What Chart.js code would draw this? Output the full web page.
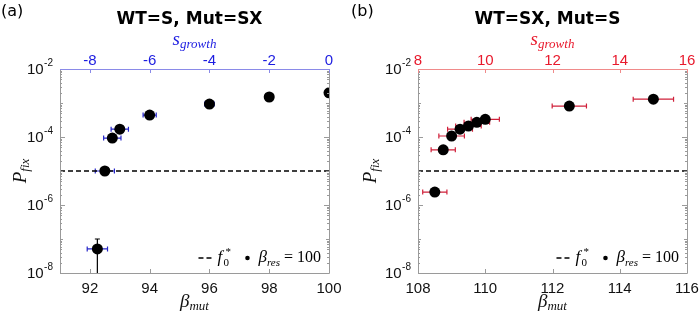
<!DOCTYPE html>
<html>
<head>
<meta charset="utf-8">
<script src="https://cdn.jsdelivr.net/npm/chart.js@4/dist/chart.umd.min.js"></script>
<style>
  body { margin: 0; background: #fff; }
  #wrap { display: flex; width: 700px; height: 317px; }
  canvas { display: block; }
</style>
</head>
<body>
<div id="wrap">
  <canvas id="chartA" width="350" height="317"></canvas>
  <canvas id="chartB" width="350" height="317"></canvas>
</div>
<script>
// panel (a): WT=S, Mut=SX
const betaMutA = [92.25, 92.5, 92.75, 93, 94, 96, 98, 100];
const pFixA = [5.1e-8, 1.0e-5, 9.3e-5, 1.7e-4, 4.4e-4, 9.3e-4, 1.5e-3, 2.0e-3];
const xErrA = [0.34, 0.32, 0.29, 0.29, 0.22, 0.16, 0, 0];
const yLowA = [1e-9, null, null, null, null, null, null, null];
const yHighA = [1.0e-7, null, null, null, null, null, null, null];
const betaTicksA = [92, 94, 96, 98, 100];
const sTicksA = [-8, -6, -4, -2, 0];

// panel (b): WT=SX, Mut=S
const betaMutB = [108.5, 108.75, 109, 109.25, 109.5, 109.75, 110, 112.5, 115];
const pFixB = [2.4e-6, 4.2e-5, 1.07e-4, 1.7e-4, 2.1e-4, 2.7e-4, 3.3e-4, 8.1e-4, 1.3e-3];
const xErrB = [0.36, 0.36, 0.38, 0.37, 0.38, 0.38, 0.42, 0.51, 0.6];
const betaTicksB = [108, 110, 112, 114, 116];
const sTicksB = [8, 10, 12, 14, 16];

const yTicks = [1e-8, 1e-6, 1e-4, 1e-2];
const fStar = 1e-5;
const betaRes = 100;

const SANS = '"Liberation Sans", Arial, sans-serif';
const SERIF = '"Liberation Serif", "DejaVu Serif", serif';

function drawParts(ctx, parts, x, y) {
  // parts: [text, font, dy]
  parts.forEach(p => {
    ctx.font = p[1];
    ctx.fillText(p[0], x, y + (p[2] || 0));
    x += ctx.measureText(p[0]).width;
  });
  return x;
}
function partsWidth(ctx, parts) {
  let w = 0;
  parts.forEach(p => { ctx.font = p[1]; w += ctx.measureText(p[0]).width; });
  return w;
}

function makePanel(id, p) {
  const deco = {
    id: 'deco' + id,
    beforeDatasetsDraw(chart) {
      const ctx = chart.ctx, xs = chart.scales.x, ys = chart.scales.y, a = chart.chartArea;
      ctx.save();
      ctx.beginPath();
      ctx.rect(a.left, a.top, a.right - a.left, a.bottom - a.top);
      ctx.clip();
      ctx.lineWidth = 1.2;
      p.beta.forEach((b, i) => {
        const py = ys.getPixelForValue(p.pfix[i]);
        if (p.xerr[i] > 0) {
          const x1 = xs.getPixelForValue(b - p.xerr[i]), x2 = xs.getPixelForValue(b + p.xerr[i]);
          ctx.strokeStyle = p.errColor;
          ctx.beginPath();
          ctx.moveTo(x1, py); ctx.lineTo(x2, py);
          ctx.moveTo(x1, py - 2.5); ctx.lineTo(x1, py + 2.5);
          ctx.moveTo(x2, py - 2.5); ctx.lineTo(x2, py + 2.5);
          ctx.stroke();
        }
        if (p.ylow && p.ylow[i] != null) {
          const px = xs.getPixelForValue(b);
          const y1 = ys.getPixelForValue(p.yhigh[i]), y2 = ys.getPixelForValue(p.ylow[i]);
          ctx.strokeStyle = '#000';
          ctx.beginPath();
          ctx.moveTo(px, y1); ctx.lineTo(px, y2);
          ctx.moveTo(px - 2.5, y1); ctx.lineTo(px + 2.5, y1);
          ctx.stroke();
        }
      });
      ctx.restore();
    },
    afterDraw(chart) {
      const ctx = chart.ctx, xs = chart.scales.x, ys = chart.scales.y, a = chart.chartArea;
      ctx.save();
      // frame
      ctx.lineWidth = 1;
      ctx.strokeStyle = '#9a9a9a';
      ctx.beginPath();
      ctx.moveTo(a.left + 0.5, a.top); ctx.lineTo(a.left + 0.5, a.bottom + 0.5);
      ctx.lineTo(a.right + 0.5, a.bottom + 0.5); ctx.lineTo(a.right + 0.5, a.top);
      ctx.stroke();
      ctx.strokeStyle = p.topLine;
      ctx.beginPath();
      ctx.moveTo(a.left, a.top + 0.5); ctx.lineTo(a.right + 1, a.top + 0.5);
      ctx.stroke();
      // y ticks (major + minor), inward on both sides
      ctx.strokeStyle = '#9a9a9a';
      ctx.beginPath();
      for (let e = -8; e < -2; e++) {
        for (let m = 1; m < 10; m++) {
          const v = m * Math.pow(10, e);
          const py = Math.round(ys.getPixelForValue(v)) + 0.5;
          const len = m === 1 ? (e % 2 === 0 ? 5 : 3) : 2;
          ctx.moveTo(a.left, py); ctx.lineTo(a.left + len, py);
          ctx.moveTo(a.right, py); ctx.lineTo(a.right - len, py);
        }
      }
      p.betaTicks.forEach(v => {
        const px = Math.round(xs.getPixelForValue(v)) + 0.5;
        ctx.moveTo(px, a.bottom); ctx.lineTo(px, a.bottom - 4);
      });
      ctx.stroke();
      ctx.strokeStyle = p.topLine;
      ctx.beginPath();
      p.sTicks.forEach(v => {
        const px = Math.round(chart.scales.x2.getPixelForValue(v)) + 0.5;
        ctx.moveTo(px, a.top); ctx.lineTo(px, a.top + 4);
      });
      ctx.stroke();
      // y tick labels 10^k
      ctx.fillStyle = '#111';
      ctx.textBaseline = 'middle';
      yTicks.forEach(v => {
        const py = ys.getPixelForValue(v);
        const exp = String(Math.round(Math.log10(v)));
        ctx.font = '10px ' + SANS;
        const ew = ctx.measureText(exp).width;
        const xe = a.left - 7;
        ctx.textAlign = 'left';
        ctx.fillText(exp, xe - ew, py - 6);
        ctx.font = '15px ' + SANS;
        ctx.textAlign = 'right';
        ctx.fillText('10', xe - ew - 0.5, py + 1);
      });
      ctx.textAlign = 'left';
      // axis titles
      const cx = (a.left + a.right) / 2;
      const it18 = 'italic 19px ' + SERIF, it12 = 'italic 13px ' + SERIF;
      let parts = [['β', it18, 0], ['mut', it12, 5]];
      drawParts(ctx, parts, cx - partsWidth(ctx, parts) / 2, 302);
      ctx.fillStyle = p.topColor;
      parts = [['s', it18, 0], ['growth', it12, 5]];
      drawParts(ctx, parts, cx - partsWidth(ctx, parts) / 2, 40);
      ctx.fillStyle = '#111';
      ctx.save();
      ctx.translate(21, (a.top + a.bottom) / 2);
      ctx.rotate(-Math.PI / 2);
      parts = [['P', it18, 0], ['fix', it12, 5]];
      drawParts(ctx, parts, -partsWidth(ctx, parts) / 2, 0);
      ctx.restore();
      // title and panel letter
      ctx.textAlign = 'center';
      ctx.font = 'bold 17px "DejaVu Sans", sans-serif';
      ctx.fillStyle = '#000';
      ctx.fillText(p.title, cx - 5, 20);
      ctx.textAlign = 'left';
      ctx.font = '16px "DejaVu Sans", sans-serif';
      ctx.fillText(p.letter, 1, 12);
      // legend (right aligned inside the plot)
      const ly = a.bottom - 15;
      const it17 = 'italic 17px ' + SERIF, it11 = 'italic 11px ' + SERIF;
      const betaParts = [['β', it17, 0], ['res', it11, 5], [' = ' + betaRes, '16px ' + SERIF, 0]];
      const bx = a.right - 8 - partsWidth(ctx, betaParts);
      let lx = bx - 60;
      ctx.strokeStyle = '#000';
      ctx.lineWidth = 1.5;
      ctx.setLineDash([5, 3]);
      ctx.beginPath();
      ctx.moveTo(lx, ly); ctx.lineTo(lx + 13, ly);
      ctx.stroke();
      ctx.setLineDash([]);
      lx += 19;
      drawParts(ctx, [['f', it17, 0]], lx, ly);
      ctx.font = '11px ' + SERIF;
      ctx.fillText('0', lx + 6, ly + 5);
      ctx.fillText('*', lx + 8, ly - 6);
      ctx.beginPath();
      ctx.arc(bx - 11, ly, 2.3, 0, Math.PI * 2);
      ctx.fill();
      drawParts(ctx, betaParts, bx, ly);
      ctx.restore();
    }
  };

  return new Chart(document.getElementById(id), {
    type: 'scatter',
    data: {
      datasets: [{
        type: 'line',
        data: [{ x: p.xmin, y: fStar }, { x: p.xmax, y: fStar }],
        borderColor: '#000',
        borderWidth: 1.5,
        borderDash: [5, 3],
        pointRadius: 0,
        xAxisID: 'x', yAxisID: 'y'
      }, {
        data: p.beta.map((b, i) => ({ x: b, y: p.pfix[i] })),
        backgroundColor: '#000',
        borderWidth: 0,
        pointRadius: 5.5,
        xAxisID: 'x', yAxisID: 'y'
      }]
    },
    options: {
      responsive: false,
      animation: false,
      layout: { padding: { left: 0, right: p.padRight, top: 0, bottom: 0 } },
      plugins: { legend: { display: false }, tooltip: { enabled: false } },
      scales: {
        x: {
          type: 'linear', position: 'bottom', min: p.xmin, max: p.xmax,
          afterBuildTicks: s => { s.ticks = p.betaTicks.map(v => ({ value: v })); },
          afterFit: s => { s.height = 44; },
          grid: { display: false }, border: { display: false },
          ticks: { color: '#111', padding: -1, font: { family: SANS, size: 15 } }
        },
        x2: {
          type: 'linear', position: 'top', min: p.smin, max: p.smax,
          afterBuildTicks: s => { s.ticks = p.sTicks.map(v => ({ value: v })); },
          afterFit: s => { s.height = 69; },
          grid: { display: false }, border: { display: false },
          ticks: { color: p.topColor, padding: -9, font: { family: SANS, size: 15 } }
        },
        y: {
          type: 'logarithmic', min: 1e-8, max: 1e-2,
          afterFit: s => { s.width = p.yWidth; },
          grid: { display: false }, border: { display: false },
          ticks: { display: false }
        }
      }
    },
    plugins: [deco]
  });
}

makePanel('chartA', {
  beta: betaMutA, pfix: pFixA, xerr: xErrA, ylow: yLowA, yhigh: yHighA,
  betaTicks: betaTicksA, sTicks: sTicksA,
  xmin: 91, xmax: 100, smin: -9, smax: 0,
  yWidth: 60, padRight: 21,
  title: 'WT=S, Mut=SX', letter: '(a)',
  topColor: '#1c1ce0', topLine: '#8a8ae8', errColor: '#2626c8'
});
makePanel('chartB', {
  beta: betaMutB, pfix: pFixB, xerr: xErrB,
  betaTicks: betaTicksB, sTicks: sTicksB,
  xmin: 108, xmax: 116, smin: 8, smax: 16,
  yWidth: 68, padRight: 13,
  title: 'WT=SX, Mut=S', letter: '(b)',
  topColor: '#e8192c', topLine: '#f08a8a', errColor: '#d0203a'
});
</script>
</body>
</html>
